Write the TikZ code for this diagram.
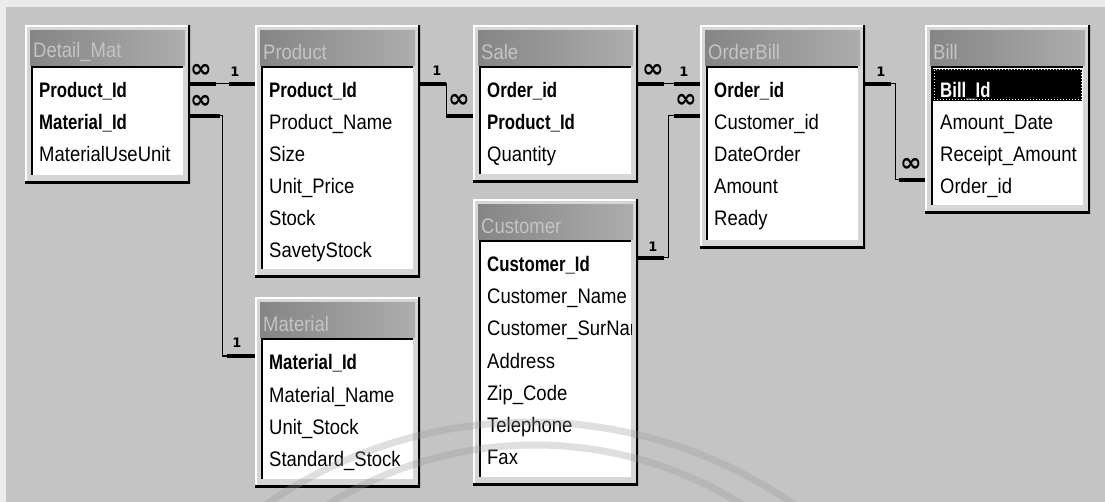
\documentclass[tikz,border=0pt]{standalone}
\usepackage[no-math]{fontspec}
\setmainfont{Liberation Sans}[FakeStretch=0.88,BoldFeatures={FakeStretch=0.8}]
\newfontfamily\cardfont{DejaVu Sans}
\definecolor{bggray}{RGB}{196,196,196}
\definecolor{winface}{RGB}{214,214,214}
\definecolor{barleft}{RGB}{132,132,132}
\definecolor{barright}{RGB}{174,174,174}
\definecolor{barfg}{RGB}{196,196,196}
\definecolor{wmark}{RGB}{150,150,150}
\newcommand\fieldfont{\fontsize{21}{24}\selectfont}

\begin{document}
\begin{tikzpicture}[x=1pt, y=-1pt,
  tablebox/.style={rectangle, anchor=north west, inner sep=0pt, minimum width=165pt, fill=winface,
    path picture={
      \shade[left color=barleft, right color=barright]
        ([shift={(5pt,-5pt)}]path picture bounding box.north west) rectangle
        ([shift={(-5pt,-40pt)}]path picture bounding box.north east);
      \fill[white] ([shift={(7pt,-42pt)}]path picture bounding box.north west) rectangle
        ([shift={(-7pt,8pt)}]path picture bounding box.south east);
      \draw[black, line width=1.5pt] ([shift={(7pt,8pt)}]path picture bounding box.south west) |-
        ([shift={(-7pt,-42pt)}]path picture bounding box.north east);
      \draw[white, line width=3pt] (path picture bounding box.south west) |- (path picture bounding box.north east);
      \draw[black, line width=5pt] (path picture bounding box.north east) |- (path picture bounding box.south west);
    }},
  tabletitle/.style={anchor=west, inner sep=0pt, text=barfg, font=\fieldfont},
  field/.style={anchor=base west, inner sep=0pt, text height=14pt, text depth=0pt, font=\fieldfont},
  rel/.style={draw=black, line width=1.4pt},
  stub/.style={draw=black, line width=4pt},
  one/.style={inner sep=0pt, font=\cardfont\bfseries\fontsize{13}{13}\selectfont},
  many/.style={inner sep=0pt, font=\cardfont\bfseries\fontsize{26}{26}\selectfont}]

\fill[bggray] (0,0) rectangle (1105,502);
\fill[black!8] (0,0) rectangle (1105,7);
\fill[black!8] (0,0) rectangle (6,502);
\useasboundingbox (0,0) rectangle (1105,502);

\node[tablebox, minimum height=158pt] (detail) at (25,25) {};
\node[tablebox, minimum height=252pt] (product) at (255,25) {};
\node[tablebox, minimum height=157pt] (sale) at (473,25) {};
\node[tablebox, minimum height=286pt] (customer) at (473,199) {};
\node[tablebox, minimum height=190pt] (material) at (255,297) {};
\node[tablebox, minimum height=223pt] (orderbill) at (700,25) {};
\node[tablebox, minimum height=188pt] (bill) at (925,25) {};

\node[tabletitle] (detailname) at ([shift={(8pt,-27pt)}]detail.north west) {Detail\_Mat};
\node[tabletitle] (productname) at ([shift={(8pt,-27pt)}]product.north west) {Product};
\node[tabletitle] (salename) at ([shift={(8pt,-27pt)}]sale.north west) {Sale};
\node[tabletitle] (customername) at ([shift={(8pt,-27pt)}]customer.north west) {Customer};
\node[tabletitle] (materialname) at ([shift={(8pt,-27pt)}]material.north west) {Material};
\node[tabletitle] (orderbillname) at ([shift={(8pt,-27pt)}]orderbill.north west) {OrderBill};
\node[tabletitle] (billname) at ([shift={(8pt,-27pt)}]bill.north west) {Bill};

\node[field] (dpid) at (39,98) {\textbf{Product\_Id}};
\node[field] (dmid) at (39,130) {\textbf{Material\_Id}};
\node[field] (dunit) at (39,162) {MaterialUseUnit};

\node[field] (ppid) at (269,98) {\textbf{Product\_Id}};
\node[field] (pname) at (269,130) {Product\_Name};
\node[field] (psize) at (269,162) {Size};
\node[field] (pprice) at (269,194) {Unit\_Price};
\node[field] (pstock) at (269,226) {Stock};
\node[field] (psafe) at (269,258) {SavetyStock};

\node[field] (soid) at (487,98) {\textbf{Order\_id}};
\node[field] (spid) at (487,130) {\textbf{Product\_Id}};
\node[field] (sqty) at (487,162) {Quantity};

\begin{scope}
\clip (480,240) rectangle (631,477);
\node[field] (ccid) at (487,272) {\textbf{Customer\_Id}};
\node[field] (cname) at (487,304) {Customer\_Name};
\node[field] (csur) at (487,336) {Customer\_SurName};
\node[field] (caddr) at (487,368) {Address};
\node[field] (czip) at (487,400) {Zip\_Code};
\node[field] (ctel) at (487,432) {Telephone};
\node[field] (cfax) at (487,464) {Fax};
\end{scope}

\node[field] (mmid) at (269,370) {\textbf{Material\_Id}};
\node[field] (mname) at (269,402) {Material\_Name};
\node[field] (munit) at (269,434) {Unit\_Stock};
\node[field] (mstd) at (269,466) {Standard\_Stock};

\node[field] (ooid) at (714,98) {\textbf{Order\_id}};
\node[field] (ocid) at (714,130) {Customer\_id};
\node[field] (odate) at (714,162) {DateOrder};
\node[field] (oamt) at (714,194) {Amount};
\node[field] (oready) at (714,226) {Ready};

\fill[black] (933,69) rectangle (1082,101);
\draw[white, dotted, line width=1pt] (934,70) rectangle (1081,100);
\node[field, text=white] (bbid) at (940,98) {\textbf{Bill\_Id}};
\node[field] (bdate) at (940,130) {Amount\_Date};
\node[field] (brcpt) at (940,162) {Receipt\_Amount};
\node[field] (boid) at (940,194) {Order\_id};

\draw[rel] (detail.east |- dpid.north) -- (product.west |- ppid.north);
\draw[stub] (detail.east |- dpid.north) -- ++(26,0);
\draw[stub] (product.west |- ppid.north) -- ++(-26,0);
\node[many] (dpidmany) at (201,71) {∞};
\node[one] (ppidone) at (235,72) {1};

\draw[rel] (detail.east |- dmid.north) -- ++(32,0) |- (material.west |- mmid.north);
\draw[stub] (detail.east |- dmid.north) -- ++(30,0);
\draw[stub] (material.west |- mmid.north) -- ++(-28,0);
\node[many] (dmidmany) at (201,102) {∞};
\node[one] (mmidone) at (237,343) {1};

\draw[rel] (product.east |- ppid.north) -- ++(26,0) |- (sale.west |- spid.north);
\draw[stub] (product.east |- ppid.north) -- ++(26,0);
\draw[stub] (sale.west |- spid.north) -- ++(-27,0);
\node[one] (ppidone2) at (437,71) {1};
\node[many] (spidmany) at (459,101) {∞};

\draw[rel] (sale.east |- soid.north) -- (orderbill.west |- ooid.north);
\draw[stub] (sale.east |- soid.north) -- ++(26,0);
\draw[stub] (orderbill.west |- ooid.north) -- ++(-26,0);
\node[many] (soidmany) at (653,71) {∞};
\node[one] (ooidone) at (684,72) {1};

\draw[rel] (customer.east |- ccid.north) -- ++(30,0) |- (orderbill.west |- ocid.north);
\draw[stub] (customer.east |- ccid.north) -- ++(26,0);
\draw[stub] (orderbill.west |- ocid.north) -- ++(-26,0);
\node[one] (ccidone) at (653,247) {1};
\node[many] (ocidmany) at (686,101) {∞};

\draw[rel] (orderbill.east |- ooid.north) -- ++(30,0) |- (bill.west |- boid.north);
\draw[stub] (orderbill.east |- ooid.north) -- ++(26,0);
\draw[stub] (bill.west |- boid.north) -- ++(-26,0);
\node[one] (ooidone2) at (881,72) {1};
\node[many] (boidmany) at (911,165) {∞};

\draw[wmark, line width=7pt, opacity=0.3] plot[domain=-125:-55, samples=60] ({530+464*cos(\x)}, {886+464*sin(\x)});
\draw[wmark, line width=7pt, opacity=0.3] plot[domain=-122:-58, samples=60] ({535+390*cos(\x)}, {835+390*sin(\x)});
\end{tikzpicture}
\end{document}
